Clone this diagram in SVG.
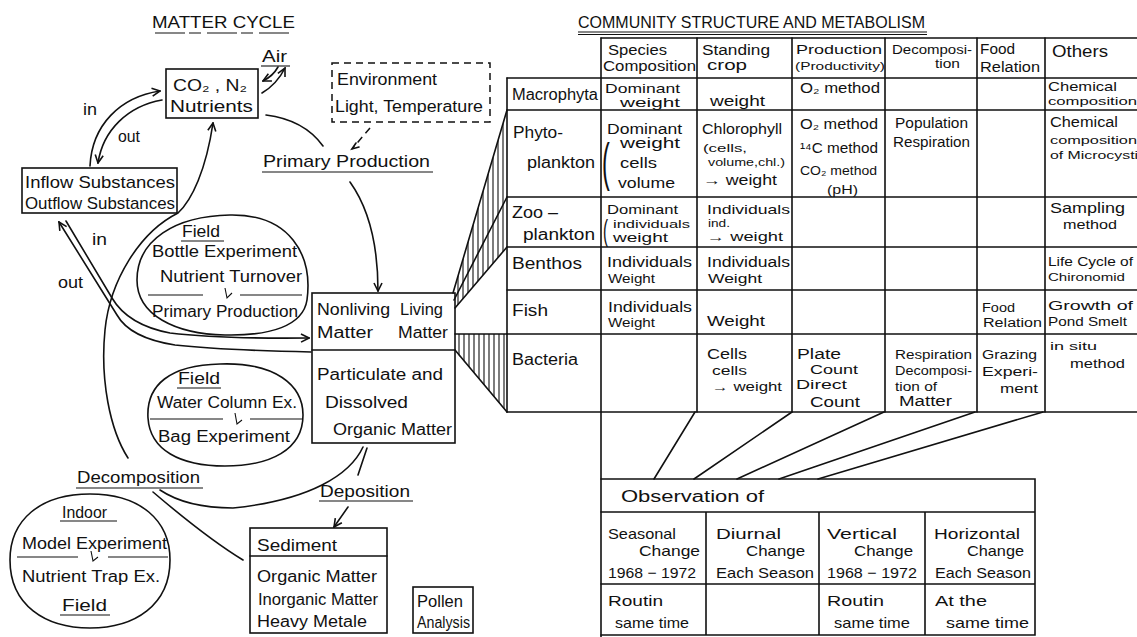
<svg xmlns="http://www.w3.org/2000/svg" width="1137" height="637" viewBox="0 0 1137 637" font-size="17">
<style>
text{font-family:"Liberation Sans",Arial,sans-serif;fill:#111}
.ln{stroke:#111;stroke-width:1.6;fill:none;stroke-linecap:round}
.th{stroke:#111;stroke-width:1.1;fill:none}
.dash{stroke:#111;stroke-width:1.5;fill:none;stroke-dasharray:7 5}
</style>
<defs>
<marker id="ah" viewBox="0 0 10 10" refX="9" refY="5" markerWidth="10" markerHeight="10" markerUnits="userSpaceOnUse" orient="auto"><path d="M1,1 L9,5 L1,9" fill="none" stroke="#111" stroke-width="1.6"/></marker>
<clipPath id="fan1"><polygon points="453,293 507,110 507,247 455,308"/></clipPath>
<clipPath id="fan2"><polygon points="454,334 507,334 507,412 454,350"/></clipPath>
</defs>
<rect width="1137" height="637" fill="#fff"/>

<g id="matter-cycle-title">
<text x="152" y="28" textLength="143" lengthAdjust="spacingAndGlyphs">MATTER CYCLE</text>
<path class="th" d="M155 33 H293" stroke-dasharray="30 4 12 6"/>
</g>

<g id="air">
<text x="262" y="62" textLength="25" lengthAdjust="spacingAndGlyphs" font-size="16">Air</text>
<path class="th" d="M261 66 H290"/>
</g>

<g id="nutrients">
<rect class="ln" x="166" y="69" width="92" height="49"/>
<text x="173" y="91" textLength="74" lengthAdjust="spacingAndGlyphs" font-size="16">CO₂ , N₂</text>
<text x="170" y="112" textLength="83" lengthAdjust="spacingAndGlyphs">Nutrients</text>
</g>

<g id="inflow-outflow">
<rect class="ln" x="22" y="168" width="155" height="45"/>
<text x="25" y="188" textLength="150" lengthAdjust="spacingAndGlyphs">Inflow Substances</text>
<text x="25" y="209" textLength="150" lengthAdjust="spacingAndGlyphs">Outflow Substances</text>
</g>

<g id="environment">
<rect class="dash" x="332" y="63" width="158" height="59"/>
<text x="337" y="85" textLength="100" lengthAdjust="spacingAndGlyphs" font-size="16">Environment</text>
<text x="335" y="112" textLength="148" lengthAdjust="spacingAndGlyphs" font-size="16">Light, Temperature</text>
</g>

<g id="primary-production">
<text x="263" y="167" textLength="167" lengthAdjust="spacingAndGlyphs">Primary Production</text>
<path class="th" d="M262 172 H433"/>
</g>

<g id="field-bottle">
<path class="ln" d="M230 215 C290 214 313 255 307 300 C303 326 270 336 225 335 C175 334 137 315 137 280 C137 240 175 216 230 215 Z"/>
<text x="182" y="237" textLength="38" lengthAdjust="spacingAndGlyphs" font-size="16">Field</text>
<path class="th" d="M181 241 H224"/>
<text x="152" y="257" textLength="145" lengthAdjust="spacingAndGlyphs" font-size="16">Bottle Experiment</text>
<text x="160" y="282" textLength="142" lengthAdjust="spacingAndGlyphs" font-size="16">Nutrient Turnover</text>
<path class="th" d="M148 295 H203 M240 295 H302 M225 288 L227 298 L232 293"/>
<text x="152" y="317" textLength="146" lengthAdjust="spacingAndGlyphs" font-size="16">Primary Production</text>
</g>

<g id="matter-box">
<rect class="ln" x="312" y="293" width="143" height="150"/>
<path class="ln" d="M312 350 H455"/>
<text x="317" y="315" textLength="73" lengthAdjust="spacingAndGlyphs" font-size="16">Nonliving</text>
<text x="400" y="315" textLength="43" lengthAdjust="spacingAndGlyphs" font-size="16">Living</text>
<text x="317" y="338" textLength="56" lengthAdjust="spacingAndGlyphs" font-size="16">Matter</text>
<text x="398" y="338" textLength="50" lengthAdjust="spacingAndGlyphs" font-size="16">Matter</text>
<text x="317" y="380" textLength="126" lengthAdjust="spacingAndGlyphs" font-size="16">Particulate and</text>
<text x="325" y="408" textLength="83" lengthAdjust="spacingAndGlyphs" font-size="16">Dissolved</text>
<text x="333" y="435" textLength="119" lengthAdjust="spacingAndGlyphs" font-size="16">Organic Matter</text>
</g>

<g id="field-bag">
<path class="ln" d="M220 364 C275 362 303 385 303 415 C303 450 270 466 225 466 C180 466 150 450 148 418 C146 385 170 365 220 364 Z"/>
<text x="178" y="384" textLength="42" lengthAdjust="spacingAndGlyphs" font-size="16">Field</text>
<path class="th" d="M177 388 H221"/>
<text x="157" y="408" textLength="140" lengthAdjust="spacingAndGlyphs" font-size="16">Water Column Ex.</text>
<path class="th" d="M150 419 H223 M250 419 H302 M235 413 L237 424 L242 420"/>
<text x="158" y="442" textLength="132" lengthAdjust="spacingAndGlyphs" font-size="16">Bag Experiment</text>
</g>

<g id="decomposition">
<text x="77" y="483" textLength="123" lengthAdjust="spacingAndGlyphs">Decomposition</text>
<path class="th" d="M76 488 H203"/>
</g>

<g id="deposition">
<text x="320" y="497" textLength="90" lengthAdjust="spacingAndGlyphs">Deposition</text>
<path class="th" d="M319 501 H413"/>
</g>

<g id="sediment">
<rect class="ln" x="250" y="528" width="137" height="105"/>
<path class="ln" d="M250 556 H387"/>
<text x="257" y="551" textLength="80" lengthAdjust="spacingAndGlyphs">Sediment</text>
<text x="257" y="582" textLength="120" lengthAdjust="spacingAndGlyphs" font-size="16">Organic Matter</text>
<text x="258" y="605" textLength="120" lengthAdjust="spacingAndGlyphs" font-size="16">Inorganic Matter</text>
<text x="257" y="627" textLength="110" lengthAdjust="spacingAndGlyphs" font-size="16">Heavy Metale</text>
</g>

<g id="pollen-analysis">
<rect class="ln" x="413" y="587" width="60" height="46"/>
<text x="417" y="607" textLength="46" lengthAdjust="spacingAndGlyphs" font-size="16">Pollen</text>
<text x="417" y="628" textLength="53" lengthAdjust="spacingAndGlyphs" font-size="16">Analysis</text>
</g>

<g id="indoor">
<path class="ln" d="M90 494 C140 494 170 520 170 560 C170 605 135 628 90 628 C45 628 10 605 10 560 C10 520 40 494 90 494 Z"/>
<text x="62" y="518" textLength="45" lengthAdjust="spacingAndGlyphs" font-size="16">Indoor</text>
<path class="th" d="M60 521 H117"/>
<text x="22" y="549" textLength="145" lengthAdjust="spacingAndGlyphs" font-size="16">Model Experiment</text>
<path class="th" d="M17 557 H78 M108 557 H168 M91 551 L93 561 L98 557"/>
<text x="22" y="582" textLength="138" lengthAdjust="spacingAndGlyphs" font-size="16">Nutrient Trap Ex.</text>
<text x="62" y="611" textLength="45" lengthAdjust="spacingAndGlyphs" font-size="16">Field</text>
<path class="th" d="M60 615 H110"/>
</g>

<g id="connectors">
<path class="ln" d="M90 166 C92 125 120 97 160 91" marker-end="url(#ah)"/>
<path class="ln" d="M162 100 C128 106 103 130 98 163" marker-end="url(#ah)"/>
<text x="83" y="115" textLength="14" lengthAdjust="spacingAndGlyphs" font-size="16">in</text>
<text x="118" y="142" textLength="22" lengthAdjust="spacingAndGlyphs" font-size="16">out</text>
<path class="ln" d="M278 67 Q273 76 263 81" marker-end="url(#ah)"/>
<path class="ln" d="M262 93 Q277 84 285 68" marker-end="url(#ah)"/>
<path class="ln" d="M266 115 C290 118 310 128 323 146"/>
<path class="dash" d="M370 128 L352 149" stroke-dasharray="4 4"/>
<path class="ln" d="M356 143 L352 149 L359 147"/>
<path class="ln" d="M350 182 C370 210 378 250 378 291" marker-end="url(#ah)"/>
<path class="ln" d="M128 458 C110 430 100 380 105 330 C110 280 140 232 178 213 C192 200 206 170 213 123" marker-end="url(#ah)"/>
<path class="ln" d="M66 221 L112 298 Q128 325 170 333 Q220 339 309 338" marker-end="url(#ah)"/>
<path class="ln" d="M311 352 Q220 350 175 345 Q130 338 117 315 L59 222" marker-end="url(#ah)"/>
<text x="92" y="245" textLength="15" lengthAdjust="spacingAndGlyphs" font-size="16">in</text>
<text x="58" y="288" textLength="25" lengthAdjust="spacingAndGlyphs" font-size="16">out</text>
<path class="ln" d="M363 447 C350 475 310 500 233 508 C200 508 175 500 160 490"/>
<path class="ln" d="M153 492 C180 515 210 540 243 560"/>
<path class="ln" d="M367 448 L358 475"/>
<path class="ln" d="M348 507 L334 527" marker-end="url(#ah)"/>
<path class="ln" d="M453 293 L507 110 M454 300 L507 197 M455 308 L507 247 M455 334 H507 M455 350 L507 412"/>
<g clip-path="url(#fan1)" class="th">
<path d="M458 100 V320 M463 100 V320 M468 100 V320 M473 100 V320 M478 100 V320 M483 100 V320 M488 100 V320 M493 100 V320 M498 100 V320 M503 100 V320"/>
</g>
<g clip-path="url(#fan2)" class="th">
<path d="M459 330 V415 M464 330 V415 M469 330 V415 M474 330 V415 M479 330 V415 M484 330 V415 M489 330 V415 M494 330 V415 M499 330 V415 M504 330 V415"/>
</g>
<path class="ln" d="M695 412 L654 479 M792 412 L694 479 M884 412 L737 479 M975 412 L779 479 M1043 412 L818 479"/>
</g>

<g id="community-title">
<text x="578" y="28" textLength="347" lengthAdjust="spacingAndGlyphs">COMMUNITY STRUCTURE AND METABOLISM</text>
<path class="th" d="M578 32 H927 M578 34.5 H927"/>
</g>

<g id="community-table">
<path class="ln" d="M601 38 H1137 M507 78 H1137 M507 110 H1137 M507 197 H1137 M507 247 H1137 M507 290 H1137 M507 334 H1137 M507 412 H1137"/>
<path class="ln" d="M507 78 V412 M601 38 V637 M697 38 V412 M792 38 V412 M885 38 V412 M977 38 V412 M1045 38 V412"/>
<text x="608" y="55" textLength="59" lengthAdjust="spacingAndGlyphs" font-size="14">Species</text>
<text x="603" y="71" textLength="93" lengthAdjust="spacingAndGlyphs" font-size="14">Composition</text>
<text x="702" y="55" textLength="68" lengthAdjust="spacingAndGlyphs" font-size="14">Standing</text>
<text x="707" y="70" textLength="40" lengthAdjust="spacingAndGlyphs" font-size="14">crop</text>
<text x="796" y="54" textLength="86" lengthAdjust="spacingAndGlyphs" font-size="13">Production</text>
<text x="795" y="70" textLength="90" lengthAdjust="spacingAndGlyphs" font-size="11">(Productivity)</text>
<text x="892" y="54" textLength="80" lengthAdjust="spacingAndGlyphs" font-size="13">Decomposi-</text>
<text x="935" y="68" textLength="25" lengthAdjust="spacingAndGlyphs" font-size="12">tion</text>
<text x="980" y="54" textLength="35" lengthAdjust="spacingAndGlyphs" font-size="14">Food</text>
<text x="980" y="72" textLength="60" lengthAdjust="spacingAndGlyphs" font-size="14">Relation</text>
<text x="1052" y="57" textLength="56" lengthAdjust="spacingAndGlyphs" font-size="16">Others</text>

<text x="512" y="100" textLength="86" lengthAdjust="spacingAndGlyphs" font-size="16">Macrophyta</text>
<text x="605" y="93" textLength="75" lengthAdjust="spacingAndGlyphs" font-size="13">Dominant</text>
<text x="620" y="107" textLength="60" lengthAdjust="spacingAndGlyphs" font-size="12">weight</text>
<text x="710" y="106" textLength="55" lengthAdjust="spacingAndGlyphs" font-size="14">weight</text>
<text x="800" y="93" textLength="80" lengthAdjust="spacingAndGlyphs" font-size="14">O₂ method</text>
<text x="1048" y="91" textLength="69" lengthAdjust="spacingAndGlyphs" font-size="13">Chemical</text>
<text x="1048" y="105" textLength="89" lengthAdjust="spacingAndGlyphs" font-size="11">composition</text>

<text x="513" y="138" textLength="50" lengthAdjust="spacingAndGlyphs" font-size="16">Phyto-</text>
<text x="527" y="168" textLength="68" lengthAdjust="spacingAndGlyphs" font-size="16">plankton</text>
<text x="607" y="134" textLength="75" lengthAdjust="spacingAndGlyphs" font-size="14">Dominant</text>
<text transform="translate(602,180) scale(0.45,1)" font-size="52">(</text>
<text x="620" y="148" textLength="60" lengthAdjust="spacingAndGlyphs" font-size="14">weight</text>
<text x="620" y="168" textLength="37" lengthAdjust="spacingAndGlyphs" font-size="14">cells</text>
<text x="618" y="188" textLength="57" lengthAdjust="spacingAndGlyphs" font-size="14">volume</text>
<text x="702" y="134" textLength="80" lengthAdjust="spacingAndGlyphs" font-size="14">Chlorophyll</text>
<text x="703" y="152" textLength="44" lengthAdjust="spacingAndGlyphs" font-size="11">(cells,</text>
<text x="708" y="166" textLength="77" lengthAdjust="spacingAndGlyphs" font-size="11">volume,chl.)</text>
<text x="703" y="185" textLength="74" lengthAdjust="spacingAndGlyphs" font-size="14">→ weight</text>
<text x="800" y="129" textLength="78" lengthAdjust="spacingAndGlyphs" font-size="14">O₂ method</text>
<text x="800" y="153" textLength="78" lengthAdjust="spacingAndGlyphs" font-size="14">¹⁴C method</text>
<text x="800" y="175" textLength="77" lengthAdjust="spacingAndGlyphs" font-size="13">CO₂ method</text>
<text x="827" y="194" textLength="31" lengthAdjust="spacingAndGlyphs" font-size="12">(pH)</text>
<text x="895" y="128" textLength="73" lengthAdjust="spacingAndGlyphs" font-size="14">Population</text>
<text x="893" y="147" textLength="77" lengthAdjust="spacingAndGlyphs" font-size="14">Respiration</text>
<text x="1050" y="127" textLength="68" lengthAdjust="spacingAndGlyphs" font-size="14">Chemical</text>
<text x="1050" y="144" textLength="87" lengthAdjust="spacingAndGlyphs" font-size="11">composition</text>
<text x="1050" y="159" textLength="96" lengthAdjust="spacingAndGlyphs" font-size="11">of Microcystis</text>

<text x="512" y="218" textLength="46" lengthAdjust="spacingAndGlyphs" font-size="16">Zoo –</text>
<text x="523" y="240" textLength="72" lengthAdjust="spacingAndGlyphs" font-size="16">plankton</text>
<text x="607" y="214" textLength="71" lengthAdjust="spacingAndGlyphs" font-size="13">Dominant</text>
<text transform="translate(603,241) scale(0.5,1)" font-size="30">(</text>
<text x="613" y="228" textLength="77" lengthAdjust="spacingAndGlyphs" font-size="11">individuals</text>
<text x="613" y="242" textLength="55" lengthAdjust="spacingAndGlyphs" font-size="12">weight</text>
<text x="707" y="214" textLength="83" lengthAdjust="spacingAndGlyphs" font-size="13">Individuals</text>
<text x="708" y="227" textLength="22" lengthAdjust="spacingAndGlyphs" font-size="10">ind.</text>
<text x="707" y="241" textLength="76" lengthAdjust="spacingAndGlyphs" font-size="12">→ weight</text>
<text x="1050" y="213" textLength="75" lengthAdjust="spacingAndGlyphs" font-size="15">Sampling</text>
<text x="1063" y="229" textLength="54" lengthAdjust="spacingAndGlyphs" font-size="12">method</text>

<text x="512" y="269" textLength="70" lengthAdjust="spacingAndGlyphs" font-size="16">Benthos</text>
<text x="607" y="267" textLength="85" lengthAdjust="spacingAndGlyphs" font-size="14">Individuals</text>
<text x="608" y="283" textLength="47" lengthAdjust="spacingAndGlyphs" font-size="13">Weight</text>
<text x="707" y="267" textLength="83" lengthAdjust="spacingAndGlyphs" font-size="14">Individuals</text>
<text x="708" y="283" textLength="54" lengthAdjust="spacingAndGlyphs" font-size="13">Weight</text>
<text x="1048" y="266" textLength="85" lengthAdjust="spacingAndGlyphs" font-size="13">Life Cycle of</text>
<text x="1048" y="281" textLength="77" lengthAdjust="spacingAndGlyphs" font-size="10">Chironomid</text>

<text x="512" y="316" textLength="36" lengthAdjust="spacingAndGlyphs" font-size="16">Fish</text>
<text x="608" y="312" textLength="84" lengthAdjust="spacingAndGlyphs" font-size="14">Individuals</text>
<text x="608" y="327" textLength="47" lengthAdjust="spacingAndGlyphs" font-size="13">Weight</text>
<text x="707" y="326" textLength="58" lengthAdjust="spacingAndGlyphs" font-size="15">Weight</text>
<text x="982" y="312" textLength="33" lengthAdjust="spacingAndGlyphs" font-size="13">Food</text>
<text x="983" y="327" textLength="59" lengthAdjust="spacingAndGlyphs" font-size="12">Relation</text>
<text x="1048" y="310" textLength="85" lengthAdjust="spacingAndGlyphs" font-size="13">Growth of</text>
<text x="1048" y="326" textLength="79" lengthAdjust="spacingAndGlyphs" font-size="12">Pond Smelt</text>

<text x="512" y="365" textLength="66" lengthAdjust="spacingAndGlyphs" font-size="16">Bacteria</text>
<text x="707" y="359" textLength="40" lengthAdjust="spacingAndGlyphs" font-size="14">Cells</text>
<text x="712" y="375" textLength="35" lengthAdjust="spacingAndGlyphs" font-size="12">cells</text>
<text x="712" y="391" textLength="70" lengthAdjust="spacingAndGlyphs" font-size="12">→ weight</text>
<text x="797" y="359" textLength="44" lengthAdjust="spacingAndGlyphs" font-size="14">Plate</text>
<text x="810" y="374" textLength="48" lengthAdjust="spacingAndGlyphs" font-size="13">Count</text>
<text x="796" y="389" textLength="51" lengthAdjust="spacingAndGlyphs" font-size="13">Direct</text>
<text x="810" y="407" textLength="50" lengthAdjust="spacingAndGlyphs" font-size="14">Count</text>
<text x="895" y="359" textLength="77" lengthAdjust="spacingAndGlyphs" font-size="12">Respiration</text>
<text x="895" y="375" textLength="77" lengthAdjust="spacingAndGlyphs" font-size="12">Decomposi-</text>
<text x="895" y="391" textLength="42" lengthAdjust="spacingAndGlyphs" font-size="12">tion of</text>
<text x="899" y="406" textLength="53" lengthAdjust="spacingAndGlyphs" font-size="14">Matter</text>
<text x="982" y="359" textLength="55" lengthAdjust="spacingAndGlyphs" font-size="13">Grazing</text>
<text x="982" y="376" textLength="56" lengthAdjust="spacingAndGlyphs" font-size="13">Experi-</text>
<text x="1000" y="393" textLength="38" lengthAdjust="spacingAndGlyphs" font-size="13">ment</text>
<text x="1050" y="350" textLength="47" lengthAdjust="spacingAndGlyphs" font-size="11">in situ</text>
<text x="1070" y="368" textLength="55" lengthAdjust="spacingAndGlyphs" font-size="12">method</text>
</g>

<g id="observation">
<path class="ln" d="M601 479 H1035 V635 H601 M601 512 H1035 M601 584 H1035 M706 512 V635 M819 512 V635 M925 512 V635"/>
<text x="621" y="502" textLength="143" lengthAdjust="spacingAndGlyphs" font-size="16">Observation  of</text>
<text x="608" y="539" textLength="68" lengthAdjust="spacingAndGlyphs" font-size="15">Seasonal</text>
<text x="639" y="556" textLength="61" lengthAdjust="spacingAndGlyphs" font-size="15">Change</text>
<text x="608" y="578" textLength="88" lengthAdjust="spacingAndGlyphs" font-size="15">1968 − 1972</text>
<text x="716" y="539" textLength="65" lengthAdjust="spacingAndGlyphs" font-size="15">Diurnal</text>
<text x="746" y="556" textLength="59" lengthAdjust="spacingAndGlyphs" font-size="15">Change</text>
<text x="716" y="578" textLength="98" lengthAdjust="spacingAndGlyphs" font-size="15">Each Season</text>
<text x="827" y="539" textLength="70" lengthAdjust="spacingAndGlyphs" font-size="15">Vertical</text>
<text x="854" y="556" textLength="59" lengthAdjust="spacingAndGlyphs" font-size="15">Change</text>
<text x="827" y="578" textLength="90" lengthAdjust="spacingAndGlyphs" font-size="15">1968 − 1972</text>
<text x="934" y="539" textLength="86" lengthAdjust="spacingAndGlyphs" font-size="15">Horizontal</text>
<text x="967" y="556" textLength="57" lengthAdjust="spacingAndGlyphs" font-size="15">Change</text>
<text x="935" y="578" textLength="96" lengthAdjust="spacingAndGlyphs" font-size="15">Each Season</text>
<text x="608" y="606" textLength="55" lengthAdjust="spacingAndGlyphs" font-size="15">Routin</text>
<text x="615" y="628" textLength="74" lengthAdjust="spacingAndGlyphs" font-size="15">same time</text>
<text x="827" y="606" textLength="57" lengthAdjust="spacingAndGlyphs" font-size="15">Routin</text>
<text x="834" y="628" textLength="76" lengthAdjust="spacingAndGlyphs" font-size="15">same time</text>
<text x="935" y="606" textLength="52" lengthAdjust="spacingAndGlyphs" font-size="15">At the</text>
<text x="946" y="628" textLength="83" lengthAdjust="spacingAndGlyphs" font-size="15">same time</text>
</g>
</svg>
